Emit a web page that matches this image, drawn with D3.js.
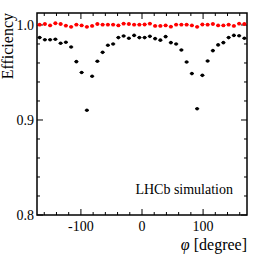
<!DOCTYPE html>
<html>
<head>
<meta charset="utf-8">
<script src="https://cdn.jsdelivr.net/npm/d3@7"></script>
<style>
  body { margin: 0; background: #fff; }
</style>
</head>
<body>
<script>
// phi histogram from -3 to 3 rad, shown in degrees, 40 bins
var phiMin = -3 * 180 / Math.PI, phiMax = 3 * 180 / Math.PI;
var nBins = 40;

// black: efficiency (lower series)
var effBlack = [0.9867, 0.9845, 0.9845, 0.985, 0.9807, 0.9818, 0.9768, 0.9614, 0.950, 0.9102,
                0.946, 0.9618, 0.9712, 0.9786, 0.980, 0.9867, 0.9884, 0.986, 0.989, 0.9867,
                0.9867, 0.988, 0.9856, 0.984, 0.9877, 0.9814, 0.980, 0.9737, 0.961, 0.9488,
                0.9119, 0.947, 0.9621, 0.973, 0.979, 0.9814, 0.9867, 0.989, 0.9886, 0.986];
// red: efficiency (upper series)
var effRed = [1.0003, 1.001, 0.9995, 1.0018, 1.001, 0.9993, 0.998, 1.0003, 0.9995, 0.998,
              0.999, 1.001, 1.0003, 1.0003, 1.0003, 0.9995, 1.0014, 1.001, 1.0003, 1.0003,
              1.0005, 1.0014, 0.999, 0.999, 0.9995, 0.9982, 1.0003, 1.0003, 1.0003, 0.9995,
              0.998, 1.0005, 1.0003, 1.001, 0.9995, 0.9995, 1.0003, 0.999, 1.0014, 1.001];

var yTicks = [0.8, 0.9, 1.0];
var xTicks = [-100, 0, 100];

var W = 266, H = 257;
var margin = {top: 13, right: 19, bottom: 42, left: 37};
var width = W - margin.left - margin.right;
var height = H - margin.top - margin.bottom;
var serif = "'Liberation Serif', 'Times New Roman', 'DejaVu Serif', serif";

var binW = (phiMax - phiMin) / nBins;
var centers = effBlack.map(function(d, i) { return phiMin + binW * (i + 0.5); });

var x = d3.scaleLinear().domain([phiMin, phiMax]).range([0, width]);
var y = d3.scaleLinear().domain([0.8, 1.0126]).range([height, 0]);

var svg = d3.select("body").append("svg")
    .attr("width", W).attr("height", H)
    .append("g")
    .attr("transform", "translate(" + margin.left + "," + margin.top + ")");

// inward ticks on all sides, ROOT style
var xMinor = d3.range(-160, 171, 20);
var yMinor = d3.range(0.8, 1.0127, 0.02).map(function(v) { return +v.toFixed(2); });

function isMajorX(v) { return v % 100 === 0; }
function isMajorY(v) { return Math.abs(v * 10 - Math.round(v * 10)) < 1e-6; }

var ticks = svg.append("g").attr("stroke", "#000").attr("stroke-width", 1);
xMinor.forEach(function(v) {
  var len = isMajorX(v) ? 6 : 3;
  ticks.append("line").attr("x1", x(v)).attr("x2", x(v)).attr("y1", height).attr("y2", height - len);
  ticks.append("line").attr("x1", x(v)).attr("x2", x(v)).attr("y1", 0).attr("y2", len);
});
yMinor.forEach(function(v) {
  var len = isMajorY(v) ? 6 : 3;
  ticks.append("line").attr("y1", y(v)).attr("y2", y(v)).attr("x1", 0).attr("x2", len);
  ticks.append("line").attr("y1", y(v)).attr("y2", y(v)).attr("x1", width).attr("x2", width - len);
});

// frame
svg.append("rect")
    .attr("width", width).attr("height", height)
    .attr("fill", "none").attr("stroke", "#000").attr("stroke-width", 1.5);

// tick labels
svg.selectAll("text.ylab").data(yTicks).enter().append("text")
    .attr("class", "ylab")
    .attr("x", -3).attr("y", function(d) { return y(d); })
    .attr("dy", "0.35em")
    .attr("text-anchor", "end")
    .style("font-family", serif)
    .style("font-size", "14px")
    .text(function(d) { return d.toFixed(1); });

svg.selectAll("text.xlab").data(xTicks).enter().append("text")
    .attr("class", "xlab")
    .attr("x", function(d) { return x(d); })
    .attr("y", height + 16)
    .attr("text-anchor", "middle")
    .style("font-family", serif)
    .style("font-size", "14px")
    .text(function(d) { return d; });

// axis titles
svg.append("text")
    .attr("transform", "translate(-24,0) rotate(-90)")
    .attr("text-anchor", "end")
    .style("font-family", serif)
    .style("font-size", "16px")
    .text("Efficiency");

var xt = svg.append("text")
    .attr("x", width).attr("y", height + 35)
    .attr("text-anchor", "end")
    .style("font-family", serif)
    .style("font-size", "16px");
xt.append("tspan").style("font-style", "italic").text("\u03c6");
xt.append("tspan").text(" [degree]");

svg.append("text")
    .attr("x", 196).attr("y", 181)
    .attr("text-anchor", "end")
    .style("font-family", serif)
    .style("font-size", "14px")
    .text("LHCb simulation");

// markers
function drawSeries(vals, color, cls, r) {
  var g = svg.append("g").attr("class", cls);
  var pts = vals.map(function(v, i) { return {phi: centers[i], eff: v}; });
  g.selectAll("line.h").data(pts).enter().append("line")
      .attr("x1", function(d) { return x(d.phi - binW / 2) + 0.5; })
      .attr("x2", function(d) { return x(d.phi + binW / 2) - 0.5; })
      .attr("y1", function(d) { return y(d.eff); })
      .attr("y2", function(d) { return y(d.eff); })
      .attr("stroke", color).attr("stroke-width", 1);
  g.selectAll("circle").data(pts).enter().append("circle")
      .attr("cx", function(d) { return x(d.phi); })
      .attr("cy", function(d) { return y(d.eff); })
      .attr("r", r)
      .attr("fill", color);
}
drawSeries(effBlack, "#000", "black", 1.8);
drawSeries(effRed, "#f00", "red", 1.9);
</script>
</body>
</html>
